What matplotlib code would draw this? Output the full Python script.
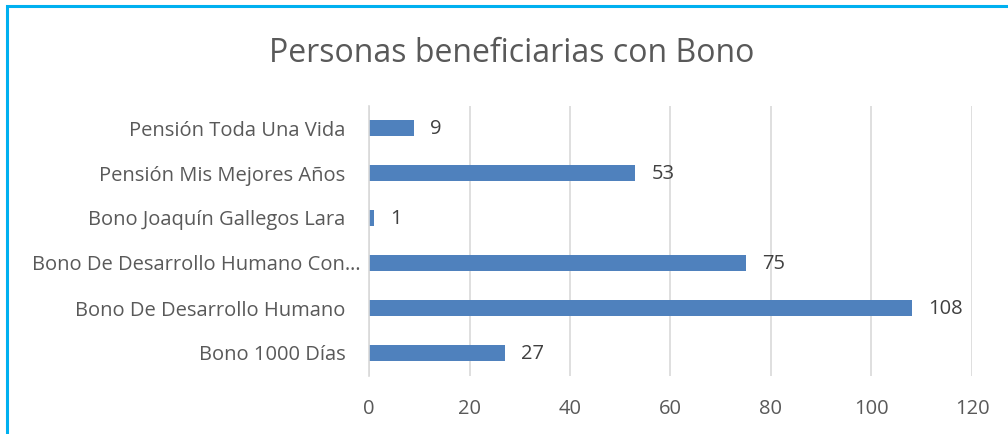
import matplotlib.pyplot as plt
from matplotlib.patches import Rectangle
from matplotlib.transforms import ScaledTranslation

categories = ['Bono 1000 Días', 'Bono De Desarrollo Humano',
              'Bono De Desarrollo Humano Con…', 'Bono Joaquín Gallegos Lara',
              'Pensión Mis Mejores Años', 'Pensión Toda Una Vida']
values = [27, 108, 75, 1, 53, 9]
xticks = [0, 20, 40, 60, 80, 100, 120]

text_color = '#595959'
bar_color = '#4F81BD'
grid_color = '#D9D9D9'

plt.rcParams['font.family'] = ['Open Sans', 'DejaVu Sans']

fig = plt.figure(figsize=(10.08, 4.34), dpi=100)
W, H = 1008, 434
# axes in pixel coords: x 369..972, y 105..375 (top-down)
ax = fig.add_axes([369 / W, 1 - 375.5 / H, (972 - 369) / W, (375.5 - 105.5) / H])

ypos = list(range(len(categories)))
ax.barh(ypos, values, height=0.36, color=bar_color, zorder=2)
for y, v in zip(ypos, values):
    ax.text(v + 3.2, y - 0.03, str(v), va='center', ha='left', fontsize=14.5, color='#404040')

ax.set_xlim(0, 120)
ax.set_ylim(-0.5, len(categories) - 0.5)
ax.set_xticks(xticks)
ax.set_yticks(ypos)
ax.set_yticklabels(categories)
ax.tick_params(axis='both', length=0, labelsize=14.5, colors=text_color)
ax.tick_params(axis='x', pad=17)
ax.tick_params(axis='y', pad=17)
ax.grid(axis='x', color=grid_color, lw=1.2, zorder=0)
for s in ['top', 'right', 'bottom']:
    ax.spines[s].set_visible(False)
ax.spines['left'].set_color(grid_color)
ax.spines['left'].set_linewidth(1.2)

# truncated label overflows toward the axis, as in the original
lab = ax.get_yticklabels()[2]
lab.set_transform(lab.get_transform() + ScaledTranslation(15 / 100, 0, fig.dpi_scale_trans))

fig.text(512 / W, 1 - 53 / H, 'Personas beneficiarias con Bono', ha='center', va='center',
         fontsize=23, color=text_color)

# light blue frame around the chart area (right and bottom run past the image)
fig.patches.append(Rectangle((7 / W, -0.05), 1.1, 1 - 6 / H + 0.05, transform=fig.transFigure,
                             fill=False, ec='#00B0F0', lw=2.2))

fig.savefig('out.png', dpi=100)
